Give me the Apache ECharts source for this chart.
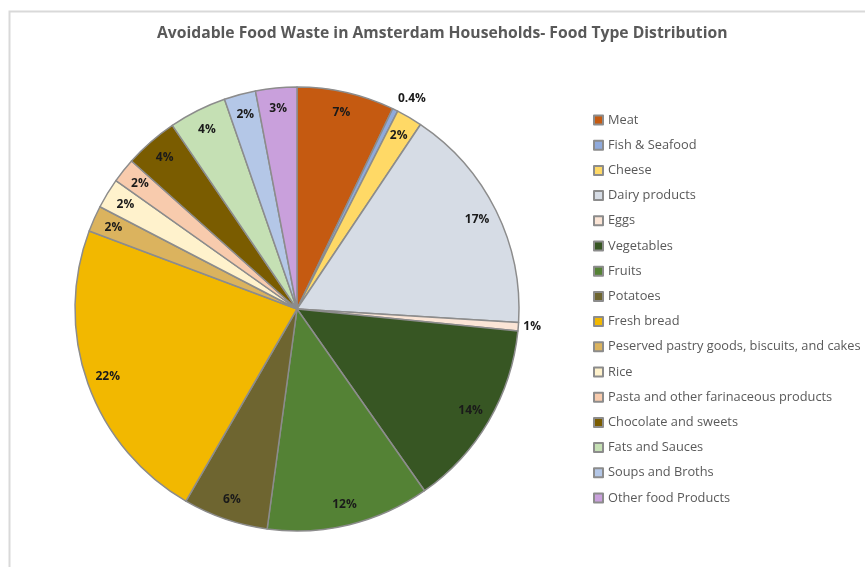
<!DOCTYPE html>
<html>
<head>
<meta charset="utf-8">
<script src="https://cdn.jsdelivr.net/npm/echarts@6/dist/echarts.min.js"></script>
<style>
  html, body { margin: 0; padding: 0; background: #fff; }
  #chartsDiv { width: 865px; height: 567px; }
</style>
</head>
<body>
<div id="chartsDiv"></div>
<script>
// food types
const names = [
  "Meat", "Fish & Seafood", "Cheese", "Dairy products", "Eggs", "Vegetables",
  "Fruits", "Potatoes", "Fresh bread", "Peserved pastry goods, biscuits, and cakes",
  "Rice", "Pasta and other farinaceous products", "Chocolate and sweets",
  "Fats and Sauces", "Soups and Broths", "Other food Products"
]
// share (%)
const values = [7.1, 0.4, 1.9, 16.6, 0.6, 13.7, 11.9, 6.2, 22.4, 1.9, 2.2, 1.8, 3.9, 4.2, 2.3, 3.0]
// data labels as printed
const labels = ["7%", "0.4%", "2%", "17%", "1%", "14%", "12%", "6%", "22%", "2%", "2%", "2%", "4%", "4%", "2%", "3%"]
const colors = [
  "#C55A11", "#8FAADC", "#FFD966", "#D6DCE5", "#FBE5D6", "#375623",
  "#548235", "#6E6530", "#F2B800", "#DBB35E", "#FFF2CC", "#F8CBAD",
  "#7A5C00", "#C5E0B4", "#B4C7E7", "#C9A0DC"
]
const outside = ["Fish & Seafood", "Eggs"]

const font = "'Open Sans', 'Noto Sans', sans-serif"

const pieData = names.map((n, i) => ({ name: n, value: values[i], itemStyle: { color: colors[i] } }))
const ringData = names.map((n, i) => {
  const item = { name: n, value: values[i], label: { formatter: labels[i] } }
  if (outside.includes(n)) {
    item.label.position = "outside"
    item.labelLine = { show: false, length: n === "Eggs" ? 0 : 4, length2: 0 }
    // Excel puts the 0.4% label a bit higher
    if (n === "Fish & Seafood") item.label.offset = [-4, -8]
  }
  return item
})

let option = {
  animation: false,
  color: colors,
  title: {
    text: "Avoidable Food Waste in Amsterdam Households- Food Type Distribution",
    left: 152,
    top: 21,
    padding: 5,
    textStyle: { color: "#595959", fontSize: 15.7, fontWeight: "bold", fontFamily: font },
  },
  legend: {
    orient: "vertical",
    left: 588,
    top: 107,
    itemWidth: 9,
    itemHeight: 9,
    itemGap: 9.2,
    icon: "rect",
    data: names,
    textStyle: { color: "#595959", fontSize: 12.8, fontFamily: font, lineHeight: 16 },
  },
  graphic: [
    {
      type: "rect",
      left: 7, top: 9,
      shape: { width: 900, height: 600 },
      style: { fill: "none", stroke: "#d9d9d9", lineWidth: 2 },
      silent: true,
    },
  ],
  series: [
    {
      name: "main",
      type: "pie",
      center: [297, 309],
      radius: [0, 222],
      startAngle: 90,
      clockwise: true,
      avoidLabelOverlap: false,
      label: { show: false },
      labelLine: { show: false },
      itemStyle: { borderColor: "#8c8c8c", borderWidth: 1.5 },
      emphasis: { disabled: true },
      data: pieData,
    },
    {
      name: "labels",
      type: "pie",
      center: [297, 309],
      radius: [174, 222],
      startAngle: 90,
      clockwise: true,
      silent: true,
      avoidLabelOverlap: false,
      itemStyle: { color: "rgba(0,0,0,0)", borderWidth: 0 },
      label: {
        show: true,
        position: "inside",
        color: "#1a1a1a",
        fontSize: 12,
        fontWeight: "bold",
        fontFamily: font,
      },
      labelLine: { show: false },
      emphasis: { disabled: true },
      data: ringData,
    },
  ],
};

let Echarts = echarts.init(document.getElementById("chartsDiv"));
Echarts.setOption(option);
</script>
</body>
</html>
